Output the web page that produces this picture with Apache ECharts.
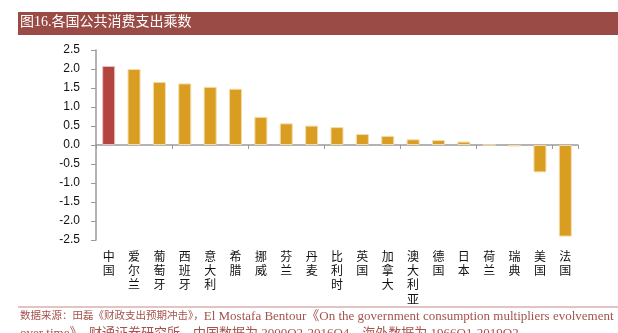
<!DOCTYPE html>
<html>
<head>
<meta charset="utf-8">
<script src="https://cdn.jsdelivr.net/npm/echarts@6/dist/echarts.min.js"></script>
<style>
html,body{margin:0;padding:0;background:#fff;}
#c{width:618px;height:333px;}
</style>
</head>
<body>
<div id="c"></div>
<script>
var categories = ['中国','爱尔兰','葡萄牙','西班牙','意大利','希腊','挪威','芬兰','丹麦','比利时','英国','加拿大','澳大利亚','德国','日本','荷兰','瑞典','美国','法国'];
var values = [2.08, 2.00, 1.66, 1.62, 1.53, 1.48, 0.74, 0.57, 0.51, 0.47, 0.29, 0.24, 0.15, 0.13, 0.09, 0.00, -0.04, -0.72, -2.41];
var highlightIndex = 0;
var titleText = '图16.各国公共消费支出乘数';
var source1cn = '数据来源：田磊《财政支出预期冲击》，';
var source1en = 'El Mostafa Bentour《On the government consumption multipliers evolvement';
var source2en = 'over time》，财通证券研究所，中国数据为 2000Q2-2016Q4，海外数据为 1966Q1-2019Q2';

var chart = echarts.init(document.getElementById('c'), null, {renderer: 'canvas'});
var barData = values.map(function (v, i) {
  return {
    value: v,
    itemStyle: i === highlightIndex
      ? {color: '#B3443F', borderColor: '#EBC0BC', borderWidth: 1}
      : {color: '#D99D22', borderColor: '#F4DBA8', borderWidth: 1}
  };
});
var cjk = '"Noto Sans CJK SC", sans-serif';
var serifMix = '"Liberation Serif", "Noto Sans CJK SC", serif';
chart.setOption({
  animation: false,
  backgroundColor: '#fff',
  grid: {left: 96, right: 40, top: 50, bottom: 93, containLabel: false},
  xAxis: [{
    type: 'category',
    data: categories,
    axisLine: {onZero: true, lineStyle: {color: '#9a9a9a', width: 1.5}},
    axisTick: {show: true, length: 4, lineStyle: {color: '#9a9a9a'}},
    axisLabel: {show: false},
    splitLine: {show: false}
  }, {
    type: 'category',
    data: categories,
    position: 'bottom',
    axisLine: {show: false, onZero: false},
    axisTick: {show: false},
    axisLabel: {
      show: true, interval: 0, margin: 9,
      fontFamily: cjk, fontSize: 12, lineHeight: 14.3, color: '#111',
      formatter: function (s) { return s.split('').join('\n'); }
    }
  }],
  yAxis: {
    type: 'value',
    min: -2.5, max: 2.5, interval: 0.5,
    axisLine: {show: true, lineStyle: {color: '#9a9a9a', width: 1.5}},
    axisTick: {show: true, length: 5, lineStyle: {color: '#9a9a9a'}},
    splitLine: {show: false},
    axisLabel: {
      margin: 16, fontSize: 12, color: '#111', fontFamily: '"Liberation Sans", Arial, sans-serif',
      formatter: function (v) { return v.toFixed(1); }
    }
  },
  series: [{
    type: 'bar',
    data: barData,
    barWidth: 13,
    xAxisIndex: 0
  }],
  graphic: [
    {type: 'rect', shape: {x: 18, y: 12, width: 600, height: 23}, style: {fill: '#9B4B46'}},
    {type: 'text', left: 20, top: 15, style: {text: titleText, fill: '#fff', fontSize: 14, fontFamily: '"Liberation Serif", ' + cjk}},
    {type: 'rect', shape: {x: 18, y: 306.5, width: 600, height: 1}, style: {fill: '#C98A85'}},
    {type: 'text', x: 20, y: 310, style: {
      text: '{cn|' + source1cn + '}{en|' + source1en + '}',
      rich: {
        cn: {fill: '#A4524C', fontSize: 10.5, fontFamily: serifMix},
        en: {fill: '#A4524C', fontSize: 13, fontFamily: serifMix}
      }
    }},
    {type: 'text', x: 20, y: 327, style: {
      text: '{en|' + source2en + '}',
      rich: {
        en: {fill: '#A4524C', fontSize: 13, fontFamily: serifMix}
      }
    }}
  ]
});
</script>
</body>
</html>
